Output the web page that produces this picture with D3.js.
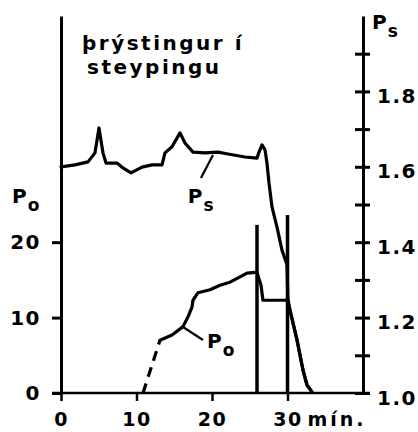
<!DOCTYPE html>
<html>
<head>
<meta charset="utf-8">
<script src="https://cdn.jsdelivr.net/npm/d3@7"></script>
<style>
  body { margin: 0; background: #fff; }
  text { font-family: "DejaVu Sans", sans-serif; fill: #000; font-weight: bold; }
</style>
</head>
<body>
<svg id="chart" width="418" height="432" viewBox="0 0 418 432"></svg>
<script>
// time in minutes, P_s (right axis)
const psTime = [0, 1.85, 3.58, 4.5, 5.03, 5.56, 5.96, 7.42, 8.21, 9.27, 10.73, 12.05, 13.38, 13.77, 14.7, 15.76, 16.42, 17.48, 19.07, 20.79, 22.12, 24.37, 25.96, 26.23, 26.62, 27.02, 27.28, 27.55, 27.95, 28.61, 29.27, 29.93, 30.05, 30.33, 31.26, 32.05, 32.58, 33.25]
const psValue = [1.600, 1.605, 1.613, 1.637, 1.703, 1.637, 1.610, 1.610, 1.597, 1.584, 1.599, 1.605, 1.605, 1.637, 1.653, 1.690, 1.663, 1.639, 1.637, 1.639, 1.634, 1.626, 1.623, 1.639, 1.658, 1.645, 1.610, 1.557, 1.493, 1.440, 1.379, 1.340, 1.250, 1.220, 1.141, 1.061, 1.021, 1.003]

// P_o (left axis): dashed start, then solid
const poDashTime = [10.86, 13.11]
const poDashValue = [0, 7.0]
const poTime = [13.11, 14.7, 16.16, 16.82, 17.35, 17.48, 18.15, 19.74, 21.06, 22.38, 23.71, 24.64, 25.7, 25.96, 26.49, 26.75, 29.93, 30.33, 31.26, 32.05, 32.58, 33.25]
const poValue = [7.0, 7.7, 8.8, 10.1, 11.4, 12.3, 13.3, 13.7, 14.3, 14.7, 15.4, 15.9, 16.0, 16.0, 14.3, 12.3, 12.3, 11.0, 7.0, 3.05, 1.06, 0.13]

// vertical marks: time and top (P_o units)
const markTime = [25.96, 30.0]
const markTop = [22.3, 23.6]

const xTicks = [0, 10, 20, 30]
const poTicks = [0, 10, 20]
const psTicks = [1.0, 1.1, 1.2, 1.3, 1.4, 1.5, 1.6, 1.7, 1.8, 1.9]
const psLabelled = [1.0, 1.2, 1.4, 1.6, 1.8]

const svg = d3.select("#chart")

const x = d3.scaleLinear().domain([0, 40]).range([61, 363])
const yPo = d3.scaleLinear().domain([0, 50]).range([393, 16])
const yPs = d3.scaleLinear().domain([1.0, 2.0]).range([393, 16])

const g = svg.append("g")

// x axis
let xAxis = g.append("g")
    .attr("transform", `translate(0,${yPo(0)})`)
    .call(d3.axisBottom(x).tickValues(xTicks).tickSize(8).tickSizeOuter(0).tickPadding(12))
xAxis.select(".domain").attr("d", `M${x(0) - 9},0H${x(40) + 7}`)
xAxis.selectAll("line, path").attr("stroke", "#000").attr("stroke-width", 2.5)
xAxis.selectAll("text").attr("font-size", 19).attr("letter-spacing", 1.5)
xAxis.append("text")
    .attr("x", x(30) + 20)
    .attr("y", 20)
    .attr("dy", "0.71em")
    .attr("font-size", 19)
    .attr("letter-spacing", 3)
    .attr("text-anchor", "start")
    .text("mín.")

// left axis
let leftAxis = g.append("g")
    .attr("transform", `translate(${x(0)},0)`)
    .call(d3.axisLeft(yPo).tickValues(poTicks).tickSize(9).tickSizeOuter(0).tickPadding(11))
leftAxis.selectAll("line, path").attr("stroke", "#000").attr("stroke-width", 3)
leftAxis.selectAll("text").attr("font-size", 20).attr("letter-spacing", 1.5)

// right axis
let rightAxis = g.append("g")
    .attr("transform", `translate(${x(40)},0)`)
    .call(d3.axisRight(yPs).tickValues(psTicks).tickSize(0).tickSizeOuter(0).tickPadding(14)
        .tickFormat(d => psLabelled.some(v => Math.abs(v - d) < 1e-6) ? d3.format(".1f")(d) : ""))
rightAxis.selectAll(".tick line").attr("x1", -8).attr("x2", 7)
rightAxis.selectAll("line, path").attr("stroke", "#000").attr("stroke-width", 3)
rightAxis.selectAll("text").attr("font-size", 20).attr("letter-spacing", 1.5).attr("dy", "0.55em")

// curves
const psLine = d3.line().x((d, i) => x(psTime[i])).y(d => yPs(d))
const poLine = d3.line().x((d, i) => x(poTime[i])).y(d => yPo(d))
const poDash = d3.line().x((d, i) => x(poDashTime[i])).y(d => yPo(d))

g.append("path").attr("d", psLine(psValue))
    .attr("fill", "none").attr("stroke", "#000").attr("stroke-width", 3.2)
    .attr("stroke-linejoin", "round").attr("stroke-linecap", "round")
g.append("path").attr("d", poLine(poValue))
    .attr("fill", "none").attr("stroke", "#000").attr("stroke-width", 3.2)
    .attr("stroke-linejoin", "round").attr("stroke-linecap", "round")
g.append("path").attr("d", poDash(poDashValue))
    .attr("fill", "none").attr("stroke", "#000").attr("stroke-width", 3.2)
    .attr("stroke-dasharray", "10,7")

// vertical marks
g.selectAll(".mark")
    .data(markTime)
    .enter()
    .append("line")
    .attr("class", "mark")
    .attr("x1", d => x(d)).attr("x2", d => x(d))
    .attr("y1", yPo(0))
    .attr("y2", (d, i) => yPo(markTop[i]))
    .attr("stroke", "#000").attr("stroke-width", 3.5)

// leader lines
g.append("line")
    .attr("x1", x(20.13)).attr("y1", yPs(1.631))
    .attr("x2", x(18.54)).attr("y2", yPs(1.570))
    .attr("stroke", "#000").attr("stroke-width", 2.2)
g.append("line")
    .attr("x1", x(16.16)).attr("y1", yPo(8.75))
    .attr("x2", x(18.8)).attr("y2", yPo(7.03))
    .attr("stroke", "#000").attr("stroke-width", 2.2)

function subLabel(px, py, main, sub) {
    let t = svg.append("text")
        .attr("x", px).attr("y", py)
        .attr("font-size", 20)
    t.append("tspan").text(main)
    t.append("tspan").attr("dy", 8).attr("dx", 1).attr("font-size", 17).text(sub)
}

subLabel(x(16.8), yPs(1.505), "P", "s")
subLabel(x(19.34), yPo(5.97), "P", "o")
subLabel(12, 203, "P", "o")
subLabel(x(40) + 9, 29, "P", "s")

// title
svg.append("text").attr("x", 82).attr("y", 50)
    .attr("font-size", 20).attr("letter-spacing", 2.5).text("þrýstingur í")
svg.append("text").attr("x", 87).attr("y", 74)
    .attr("font-size", 20).attr("letter-spacing", 2.5).text("steypingu")
</script>
</body>
</html>
